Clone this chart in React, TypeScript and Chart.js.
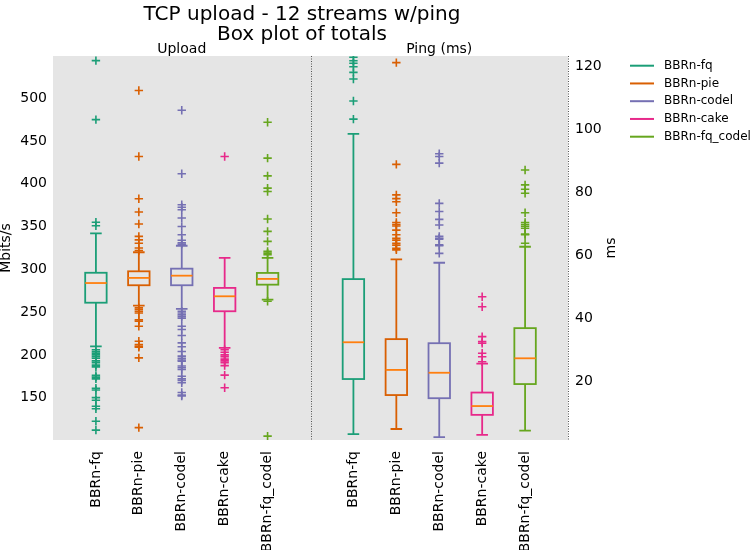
import { useEffect, useRef } from 'react';
import { Chart, registerables } from 'chart.js';

Chart.register(...registerables);

// Series and their colours (Dark2)
const categories = ['BBRn-fq', 'BBRn-pie', 'BBRn-codel', 'BBRn-cake', 'BBRn-fq_codel'];
const seriesColors = ['#1b9e77', '#d95f02', '#7570b3', '#e7298a', '#66a61e'];
const medianColor = '#ff7f0e';

// x positions of the two groups on a 0..12 axis, with a divider at 6
const uploadPositions = [1, 2, 3, 4, 5];
const pingPositions = [7, 8, 9, 10, 11];
const groupDivider = 6;

// Upload totals (Mbits/s): whisker ends, quartiles, medians
const uploadLow = [210, 257.6, 253.8, 208.3, 264.6];
const uploadQ1 = [261, 281.4, 281.4, 251, 282.1];
const uploadMedian = [284, 290, 292.6, 268.5, 288.8];
const uploadQ3 = [296, 297.7, 300.8, 278.3, 295.8];
const uploadHigh = [342, 320, 327.6, 313.3, 313.3];
const uploadOutliersFq = [544, 475, 355, 351, 206, 204, 202, 200, 198, 196, 193, 191, 188, 186, 176, 174, 172, 161, 159, 150, 147, 140, 137, 122.5, 112];
const uploadOutliersPie = [509, 432, 382.5, 367, 353, 338.5, 334.5, 330.5, 325, 322, 255, 253, 251, 249, 241, 239.5, 233.5, 216, 212, 210, 209, 196.5, 115];
const uploadOutliersCodel = [486, 411.7, 375.5, 372.6, 369.7, 360, 350, 340.5, 334, 331, 329.5, 251, 249, 247, 245, 243, 233.5, 229.6, 222.6, 214, 209.5, 204, 198.5, 196, 194, 192.7, 187, 185, 183, 175, 172, 170, 167.5, 156, 153, 152];
const uploadOutliersCake = [432, 206, 203, 200, 198, 195, 193, 191, 187.4, 176.3, 161.6];
const uploadOutliersFqCodel = [472, 430, 409.3, 395, 391, 358.8, 344.4, 332.7, 321, 319, 317, 262.7, 105];

// Ping (ms): whisker ends, quartiles, medians
const pingLow = [3.1, 4.7, 2.1, 2.8, 4.2];
const pingQ1 = [20.6, 15.5, 14.5, 9.2, 19];
const pingMedian = [32.3, 23.5, 22.6, 12, 27.2];
const pingQ3 = [52.4, 33.3, 32, 16.3, 36.8];
const pingHigh = [98.6, 58.7, 57.6, 25.5, 62.7];
const pingOutliersFq = [123, 121.9, 121.1, 120, 118.2, 116.1, 109.1, 103.3];
const pingOutliersPie = [121.3, 88.9, 79.2, 78, 77, 73.5, 70.4, 69.8, 69.3, 68, 66.5, 65.4, 64.8, 63.8, 63.2, 62.2, 61.7];
const pingOutliersCodel = [92.3, 91.4, 89.3, 76.5, 73.9, 71.4, 69.6, 66, 65.4, 65.1, 63.3, 63, 60.6];
const pingOutliersCake = [46.8, 43.6, 34.1, 32.5, 32, 28.8, 27.7, 26.1];
const pingOutliersFqCodel = [87.1, 82.4, 81, 79.7, 73.5, 70.4, 69.8, 69.2, 68.6, 66.7, 66.5, 63.8];

const uploadOutliers = [uploadOutliersFq, uploadOutliersPie, uploadOutliersCodel, uploadOutliersCake, uploadOutliersFqCodel];
const pingOutliers = [pingOutliersFq, pingOutliersPie, pingOutliersCodel, pingOutliersCake, pingOutliersFqCodel];

// Axis ticks and ranges
const uploadTicks = [150, 200, 250, 300, 350, 400, 450, 500];
const pingTicks = [20, 40, 60, 80, 100, 120];
const uploadRange = [100.5, 549.4];
const pingRange = [1.2, 123.4];

const titleLines = ['TCP upload - 12 streams w/ping', 'Box plot of totals'];
const groupTitles = ['Upload', 'Ping (ms)'];
const leftAxisTitle = 'Mbits/s';
const rightAxisTitle = 'ms';

const FONT = "'DejaVu Sans', sans-serif";

type BoxGroup = {
  axis: string;
  positions: number[];
  low: number[];
  q1: number[];
  median: number[];
  q3: number[];
  high: number[];
};

const boxGroups: BoxGroup[] = [
  { axis: 'y', positions: uploadPositions, low: uploadLow, q1: uploadQ1, median: uploadMedian, q3: uploadQ3, high: uploadHigh },
  { axis: 'y2', positions: pingPositions, low: pingLow, q1: pingQ1, median: pingMedian, q3: pingQ3, high: pingHigh },
];

const boxPlotPlugin = {
  id: 'boxPlotDecor',
  beforeDraw(chart: any) {
    const { ctx, chartArea: a } = chart;
    ctx.save();
    ctx.fillStyle = '#ffffff';
    ctx.fillRect(0, 0, chart.width, chart.height);
    ctx.fillStyle = '#e5e5e5';
    ctx.fillRect(a.left, a.top, a.right - a.left, a.bottom - a.top);
    ctx.restore();
  },
  beforeDatasetsDraw(chart: any) {
    const { ctx, chartArea: a } = chart;
    const xs = chart.scales.x;
    const boxHalf = 0.25;
    const capHalf = 0.135;
    ctx.save();
    ctx.beginPath();
    ctx.rect(a.left, a.top, a.right - a.left, a.bottom - a.top);
    ctx.clip();
    ctx.lineWidth = 1.8;
    for (const g of boxGroups) {
      const ys = chart.scales[g.axis];
      g.positions.forEach((pos, i) => {
        const cx = xs.getPixelForValue(pos);
        const bl = xs.getPixelForValue(pos - boxHalf);
        const br = xs.getPixelForValue(pos + boxHalf);
        const cl = xs.getPixelForValue(pos - capHalf);
        const cr = xs.getPixelForValue(pos + capHalf);
        const yLow = ys.getPixelForValue(g.low[i]);
        const yQ1 = ys.getPixelForValue(g.q1[i]);
        const yMed = ys.getPixelForValue(g.median[i]);
        const yQ3 = ys.getPixelForValue(g.q3[i]);
        const yHigh = ys.getPixelForValue(g.high[i]);
        ctx.strokeStyle = seriesColors[i];
        ctx.beginPath();
        // whiskers
        ctx.moveTo(cx, yQ1);
        ctx.lineTo(cx, yLow);
        ctx.moveTo(cx, yQ3);
        ctx.lineTo(cx, yHigh);
        // caps
        ctx.moveTo(cl, yLow);
        ctx.lineTo(cr, yLow);
        ctx.moveTo(cl, yHigh);
        ctx.lineTo(cr, yHigh);
        ctx.stroke();
        // box
        ctx.strokeRect(bl, yQ3, br - bl, yQ1 - yQ3);
        // median
        ctx.strokeStyle = medianColor;
        ctx.beginPath();
        ctx.moveTo(bl, yMed);
        ctx.lineTo(br, yMed);
        ctx.stroke();
      });
    }
    ctx.restore();
  },
  afterDraw(chart: any) {
    const { ctx, chartArea: a } = chart;
    const xs = chart.scales.x;
    ctx.save();

    // dotted separators
    ctx.strokeStyle = '#555555';
    ctx.lineWidth = 1;
    ctx.setLineDash([1, 1.5]);
    for (const v of [groupDivider, 12]) {
      const px = Math.round(xs.getPixelForValue(v)) + 0.5;
      ctx.beginPath();
      ctx.moveTo(px, a.top);
      ctx.lineTo(px, a.bottom);
      ctx.stroke();
    }
    ctx.setLineDash([]);

    ctx.fillStyle = '#000000';
    ctx.textAlign = 'center';
    ctx.textBaseline = 'alphabetic';

    // main title
    ctx.font = `20px ${FONT}`;
    ctx.fillText(titleLines[0], 302, 20);
    ctx.fillText(titleLines[1], 302, 39.5);

    // group titles
    ctx.font = `14px ${FONT}`;
    ctx.fillText(groupTitles[0], xs.getPixelForValue(3), 53);
    ctx.fillText(groupTitles[1], xs.getPixelForValue(9), 53);

    // axis titles
    const midY = (a.top + a.bottom) / 2;
    ctx.textBaseline = 'middle';
    ctx.save();
    ctx.translate(6, midY);
    ctx.rotate(-Math.PI / 2);
    ctx.fillText(leftAxisTitle, 0, 0);
    ctx.restore();
    ctx.save();
    ctx.translate(611, midY);
    ctx.rotate(-Math.PI / 2);
    ctx.fillText(rightAxisTitle, 0, 0);
    ctx.restore();

    // legend
    ctx.font = `12px ${FONT}`;
    ctx.textAlign = 'left';
    categories.forEach((name, i) => {
      const y = 65.7 + i * 17.75;
      ctx.strokeStyle = seriesColors[i];
      ctx.lineWidth = 2;
      ctx.beginPath();
      ctx.moveTo(630, y);
      ctx.lineTo(654, y);
      ctx.stroke();
      ctx.fillStyle = '#000000';
      ctx.fillText(name, 664, y);
    });
    ctx.restore();
  },
};

function outlierPoints(positions: number[], lists: number[][], i: number) {
  return lists[i].map((v) => ({ x: positions[i], y: v }));
}

export default function App() {
  const canvasRef = useRef<HTMLCanvasElement | null>(null);

  useEffect(() => {
    if (!canvasRef.current) return;
    Chart.defaults.font.family = FONT;

    const datasets: any[] = [];
    categories.forEach((name, i) => {
      datasets.push({
        label: `${name} upload`,
        data: outlierPoints(uploadPositions, uploadOutliers, i),
        yAxisID: 'y',
        pointStyle: 'cross',
        pointRadius: 4.2,
        pointBorderWidth: 1.6,
        borderColor: seriesColors[i],
        backgroundColor: seriesColors[i],
      });
      datasets.push({
        label: `${name} ping`,
        data: outlierPoints(pingPositions, pingOutliers, i),
        yAxisID: 'y2',
        pointStyle: 'cross',
        pointRadius: 4.2,
        pointBorderWidth: 1.6,
        borderColor: seriesColors[i],
        backgroundColor: seriesColors[i],
      });
    });

    const tickPositions = [...uploadPositions, ...pingPositions];
    const tickLabels = [...categories, ...categories];

    const chart = new Chart(canvasRef.current, {
      type: 'scatter',
      data: { datasets },
      plugins: [boxPlotPlugin],
      options: {
        responsive: false,
        animation: false,
        layout: { padding: { top: 56, right: 132, left: 0, bottom: 0 } },
        plugins: {
          legend: { display: false },
          title: { display: false },
          tooltip: { enabled: false },
        },
        scales: {
          x: {
            type: 'linear',
            min: 0,
            max: 12,
            grid: { display: false, drawTicks: false },
            border: { display: false },
            afterBuildTicks: (axis: any) => {
              axis.ticks = tickPositions.map((v) => ({ value: v }));
            },
            afterFit: (axis: any) => {
              axis.height = 110;
            },
            ticks: {
              autoSkip: false,
              minRotation: 90,
              maxRotation: 90,
              padding: 11,
              color: '#000000',
              font: { size: 14, family: FONT },
              callback: (v: any) => {
                const idx = tickPositions.indexOf(Number(v));
                return idx >= 0 ? tickLabels[idx] : '';
              },
            },
          },
          y: {
            type: 'linear',
            position: 'left',
            min: uploadRange[0],
            max: uploadRange[1],
            grid: { display: false, drawTicks: false },
            border: { display: false },
            afterBuildTicks: (axis: any) => {
              axis.ticks = uploadTicks.map((v) => ({ value: v }));
            },
            afterFit: (axis: any) => {
              axis.width = 53;
            },
            ticks: {
              padding: 6,
              color: '#000000',
              font: { size: 14, family: FONT },
            },
          },
          y2: {
            type: 'linear',
            position: 'right',
            min: pingRange[0],
            max: pingRange[1],
            grid: { display: false, drawTicks: false },
            border: { display: false },
            afterBuildTicks: (axis: any) => {
              axis.ticks = pingTicks.map((v) => ({ value: v }));
            },
            afterFit: (axis: any) => {
              axis.width = 50;
            },
            ticks: {
              padding: 7,
              color: '#000000',
              font: { size: 14, family: FONT },
            },
          },
        },
      },
    });

    return () => chart.destroy();
  }, []);

  return (
    <div style={{ position: 'fixed', left: 0, top: 0, width: 750, height: 550, background: '#ffffff' }}>
      <canvas ref={canvasRef} width={750} height={550} style={{ width: 750, height: 550 }} />
    </div>
  );
}
